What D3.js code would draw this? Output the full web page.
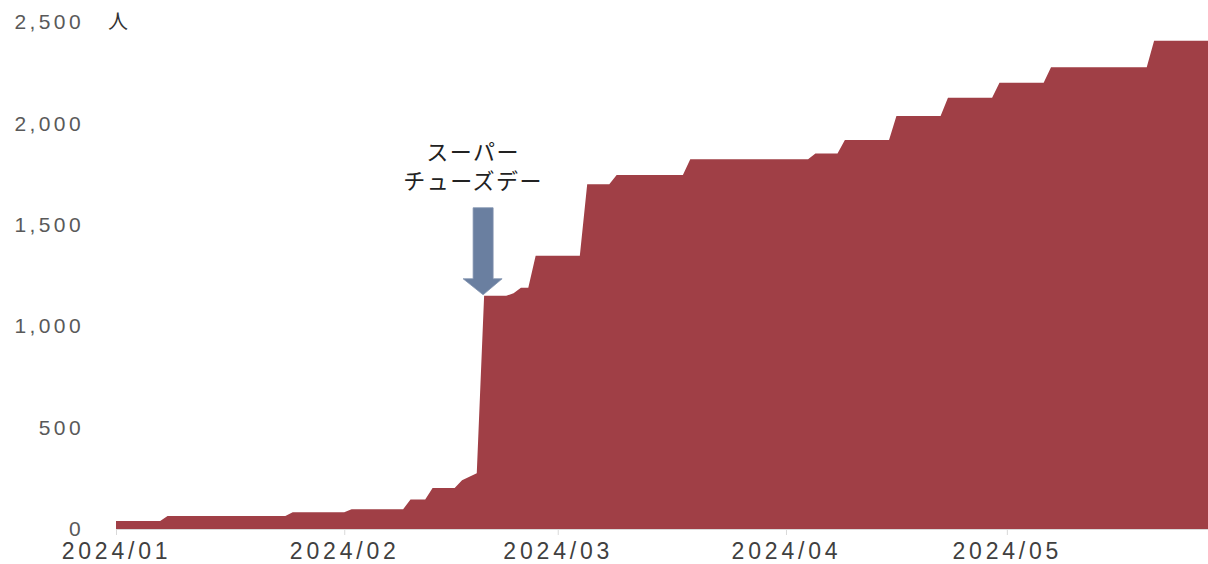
<!DOCTYPE html>
<html>
<head>
<meta charset="utf-8">
<script src="https://cdn.jsdelivr.net/npm/d3@7"></script>
<style>
  body { margin: 0; background: #fff; }
  svg { display: block; font-family: "Noto Sans CJK JP", "Noto Sans", sans-serif; }
</style>
</head>
<body>
<svg width="1208" height="564"></svg>
<script>
// cumulative count, vertices of the stepped area (date, people)
const dates = [
  "2024-01-01", "2024-01-07", "2024-01-08", "2024-01-24", "2024-01-25",
  "2024-02-01", "2024-02-02", "2024-02-09", "2024-02-10", "2024-02-12",
  "2024-02-13", "2024-02-16", "2024-02-17", "2024-02-18", "2024-02-19",
  "2024-02-20", "2024-02-23", "2024-02-24", "2024-02-25", "2024-02-26",
  "2024-02-27", "2024-03-04", "2024-03-05", "2024-03-08", "2024-03-09",
  "2024-03-18", "2024-03-19", "2024-04-04", "2024-04-05", "2024-04-08",
  "2024-04-09", "2024-04-15", "2024-04-16", "2024-04-22", "2024-04-23",
  "2024-04-29", "2024-04-30", "2024-05-06", "2024-05-07", "2024-05-20",
  "2024-05-21", "2024-05-29"
];
const counts = [
  40, 40, 64, 64, 82,
  82, 97, 97, 146, 146,
  202, 202, 240, 258, 275,
  1150, 1150, 1162, 1190, 1190,
  1348, 1348, 1700, 1700, 1745,
  1745, 1823, 1823, 1851, 1851,
  1918, 1918, 2037, 2037, 2127,
  2127, 2201, 2201, 2277, 2277,
  2408, 2408
];
const yTicks = [0, 500, 1000, 1500, 2000, 2500];
const yUnit = "人";
const noteLines = ["スーパー", "チューズデー"];
const noteDate = "2024-02-20";
const noteValue = 1150;

let svg = d3.select("svg");
const parse = d3.utcParse("%Y-%m-%d");
const data = dates.map((d, i) => ({ date: parse(d), value: counts[i] }));

// Scales
let x = d3.scaleUtc()
    .domain([parse("2024-01-01"), parse("2024-05-29")])
    .range([116, 1213]);
let y = d3.scaleLinear()
    .domain([0, 2500])
    .range([529, 22]);

// Area
svg.append("path")
    .datum(data)
    .attr("fill", "#a03f46")
    .attr("d", d3.area()
        .x(d => x(d.date))
        .y0(y(0))
        .y1(d => y(d.value)));

// X axis
let xAxis = svg.append("g")
    .attr("transform", `translate(0,${y(0)})`)
    .call(d3.axisBottom(x)
        .ticks(d3.utcMonth.every(1))
        .tickFormat(d3.utcFormat("%Y/%m"))
        .tickSize(6)
        .tickSizeOuter(0));
xAxis.select(".domain").attr("stroke", "#d9d9d9");
xAxis.selectAll(".tick line").attr("stroke", "#d9d9d9");
xAxis.selectAll(".tick text")
    .attr("y", 14)
    .attr("dy", "0.71em")
    .attr("fill", "#404040")
    .style("font-size", "23px")
    .style("letter-spacing", "3.8px");

// Y axis labels (no line)
let yAxis = svg.append("g")
    .attr("transform", "translate(84,0)")
    .call(d3.axisLeft(y)
        .tickValues(yTicks)
        .tickFormat(d3.format(","))
        .tickSize(0));
yAxis.select(".domain").remove();
yAxis.selectAll(".tick text")
    .attr("x", 0)
    .attr("fill", "#595959")
    .style("font-size", "21px")
    .style("letter-spacing", "3.4px");

// unit
svg.append("text")
    .attr("x", 118)
    .attr("y", y(2500))
    .attr("dy", "0.35em")
    .attr("text-anchor", "middle")
    .attr("fill", "#333")
    .style("font-size", "20px")
    .text(yUnit);

// annotation
const tipX = x(parse(noteDate)) - 1, tipY = y(noteValue) - 1;
svg.append("path")
    .attr("fill", "#6a7fa0")
    .attr("stroke", "#8193b0")
    .attr("stroke-width", 0.8)
    .attr("d", `M${tipX - 10},${tipY - 87} L${tipX + 10},${tipY - 87} L${tipX + 10},${tipY - 16}
                L${tipX + 19},${tipY - 16} L${tipX},${tipY} L${tipX - 20},${tipY - 16}
                L${tipX - 10},${tipY - 16} Z`);

svg.append("g")
    .selectAll("text")
    .data(noteLines)
    .enter()
    .append("text")
    .attr("x", tipX - 10)
    .attr("y", (d, i) => 152 + i * 29)
    .attr("dy", "0.35em")
    .attr("text-anchor", "middle")
    .attr("fill", "#222")
    .style("font-size", "22px")
    .style("letter-spacing", "1.5px")
    .text(d => d);
</script>
</body>
</html>
